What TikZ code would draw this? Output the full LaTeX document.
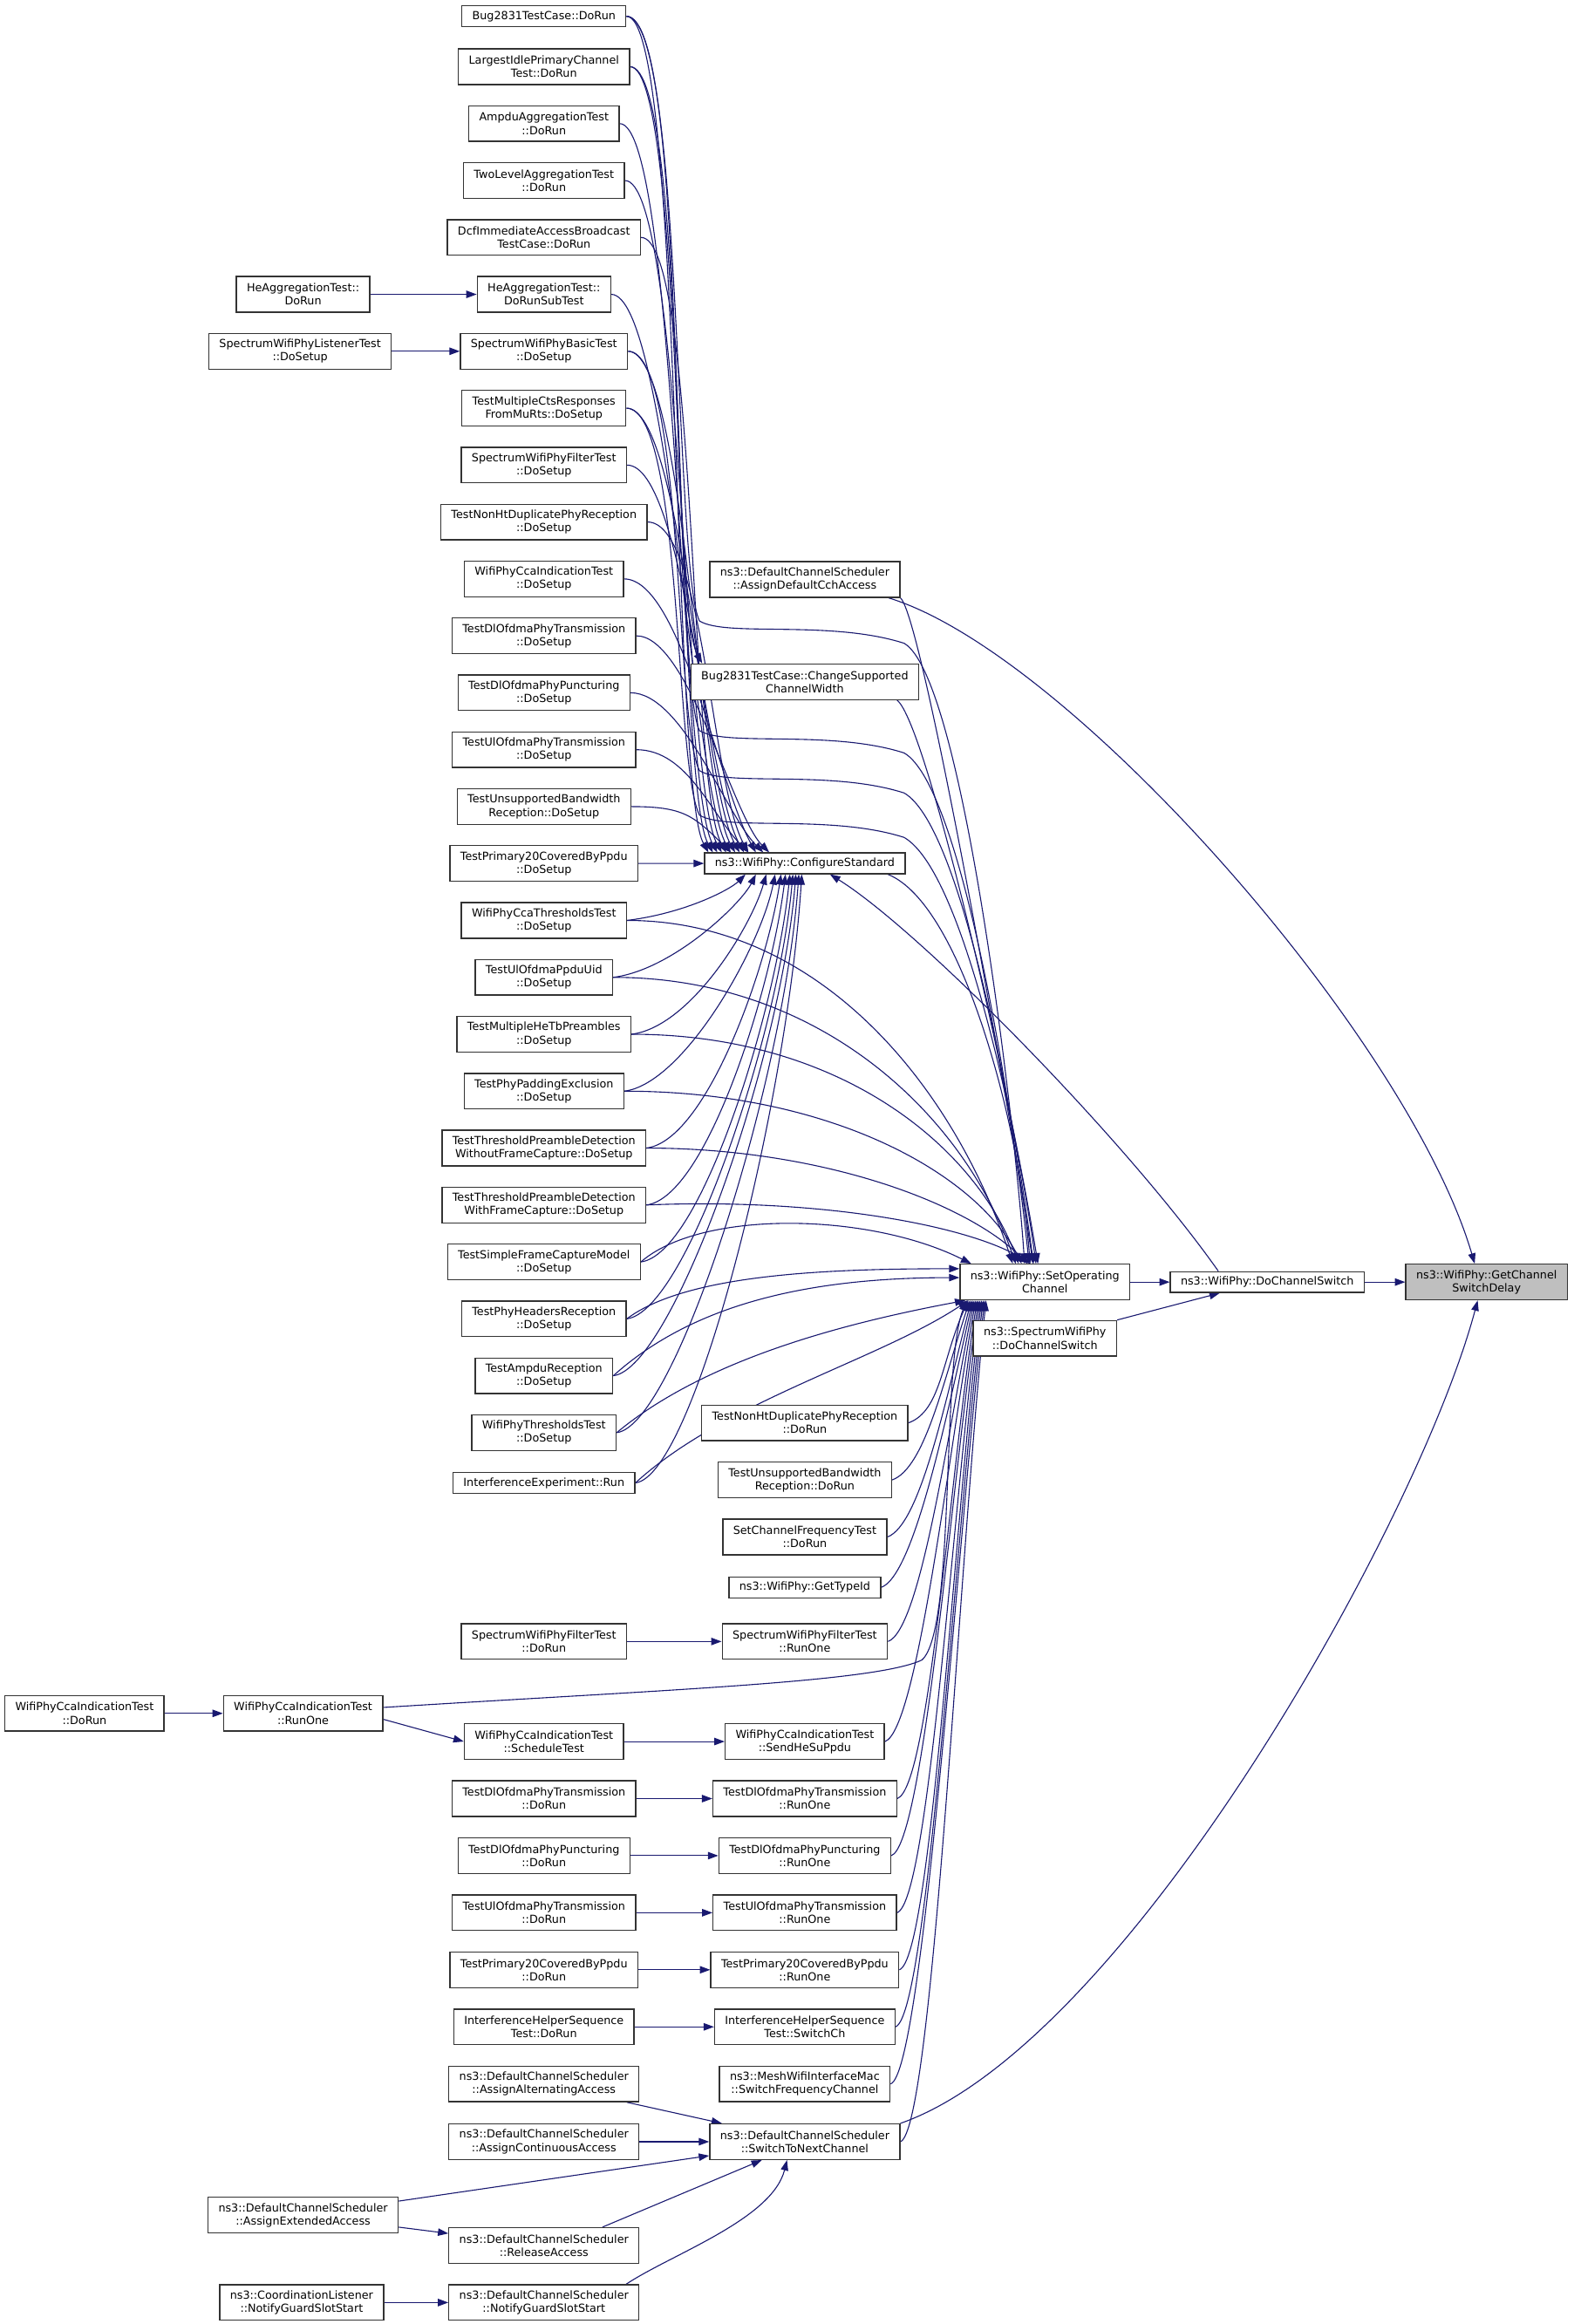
\documentclass[tikz,border=0pt]{standalone}
\usepackage{fontspec}
\setmainfont{DejaVu Sans}
\usetikzlibrary{arrows.meta,backgrounds}
\definecolor{edgeblue}{RGB}{25,25,112}
\definecolor{rootgray}{RGB}{191,191,191}
\begin{document}
\begin{tikzpicture}[x=1pt,y=-1pt,
    fn/.style={draw=black!80, line width=0.8pt, fill=white, align=center,
      font=\fontsize{7.5}{8.9}\selectfont, inner xsep=7pt, inner ysep=0pt, minimum height=24pt},
    fnflat/.style={fn, minimum height=14pt},
    call/.style={draw=edgeblue, line width=0.65pt, -{Triangle[length=7pt,width=5pt]}}]
  \useasboundingbox (0,0) rectangle (1062,1568);

  % callers on the left
  \node[fn] (hedorun) at (204.5,198.6) {HeAggregationTest::\\DoRun};
  \node[fn] (listen) at (202.5,237) {SpectrumWifiPhyListenerTest\\::DoSetup};
  \node[fn] (ccadorun) at (57,1156) {WifiPhyCcaIndicationTest\\::DoRun};
  \node[fn] (ccarun) at (204.5,1156) {WifiPhyCcaIndicationTest\\::RunOne};
  \node[fn] (ext) at (204.5,1494.5) {ns3::DefaultChannelScheduler\\::AssignExtendedAccess};
  \node[fn] (coord) at (203.5,1553.5) {ns3::CoordinationListener\\::NotifyGuardSlotStart};

  % test cases
  \node[fnflat] (b1) at (367,11) {Bug2831TestCase::DoRun};
  \node[fn] (b2) at (367,45) {LargestIdlePrimaryChannel\\Test::DoRun};
  \node[fn] (b3) at (367,83.4) {AmpduAggregationTest\\::DoRun};
  \node[fn] (b4) at (367,121.8) {TwoLevelAggregationTest\\::DoRun};
  \node[fn] (b5) at (367,160.2) {DcfImmediateAccessBroadcast\\TestCase::DoRun};
  \node[fn] (b6) at (367,198.6) {HeAggregationTest::\\DoRunSubTest};
  \node[fn] (b7) at (367,237) {SpectrumWifiPhyBasicTest\\::DoSetup};
  \node[fn] (b8) at (367,275.4) {TestMultipleCtsResponses\\FromMuRts::DoSetup};
  \node[fn] (b9) at (367,313.8) {SpectrumWifiPhyFilterTest\\::DoSetup};
  \node[fn] (b10) at (367,352.2) {TestNonHtDuplicatePhyReception\\::DoSetup};
  \node[fn] (b11) at (367,390.6) {WifiPhyCcaIndicationTest\\::DoSetup};
  \node[fn] (b12) at (367,429) {TestDlOfdmaPhyTransmission\\::DoSetup};
  \node[fn] (b13) at (367,467.4) {TestDlOfdmaPhyPuncturing\\::DoSetup};
  \node[fn] (b14) at (367,505.8) {TestUlOfdmaPhyTransmission\\::DoSetup};
  \node[fn] (b15) at (367,544.2) {TestUnsupportedBandwidth\\Reception::DoSetup};
  \node[fn] (b16) at (367,582.6) {TestPrimary20CoveredByPpdu\\::DoSetup};
  \node[fn] (b17) at (367,621) {WifiPhyCcaThresholdsTest\\::DoSetup};
  \node[fn] (b18) at (367,659.4) {TestUlOfdmaPpduUid\\::DoSetup};
  \node[fn] (b19) at (367,697.8) {TestMultipleHeTbPreambles\\::DoSetup};
  \node[fn] (b20) at (367,736.2) {TestPhyPaddingExclusion\\::DoSetup};
  \node[fn] (b21) at (367,774.6) {TestThresholdPreambleDetection\\WithoutFrameCapture::DoSetup};
  \node[fn] (b22) at (367,813) {TestThresholdPreambleDetection\\WithFrameCapture::DoSetup};
  \node[fn] (b23) at (367,851.4) {TestSimpleFrameCaptureModel\\::DoSetup};
  \node[fn] (b24) at (367,889.8) {TestPhyHeadersReception\\::DoSetup};
  \node[fn] (b25) at (367,928.2) {TestAmpduReception\\::DoSetup};
  \node[fn] (b26) at (367,966.6) {WifiPhyThresholdsTest\\::DoSetup};
  \node[fnflat] (b27) at (367,1000.5) {InterferenceExperiment::Run};

  \node[fn] (fltrun) at (367,1107.5) {SpectrumWifiPhyFilterTest\\::DoRun};
  \node[fn] (sched) at (367,1175) {WifiPhyCcaIndicationTest\\::ScheduleTest};
  \node[fn] (dltx) at (367,1213.5) {TestDlOfdmaPhyTransmission\\::DoRun};
  \node[fn] (dlpunc) at (367,1252) {TestDlOfdmaPhyPuncturing\\::DoRun};
  \node[fn] (ultx) at (367,1290.5) {TestUlOfdmaPhyTransmission\\::DoRun};
  \node[fn] (p20) at (367,1329) {TestPrimary20CoveredByPpdu\\::DoRun};
  \node[fn] (ihs) at (367,1367.5) {InterferenceHelperSequence\\Test::DoRun};
  \node[fn] (alt) at (367,1406) {ns3::DefaultChannelScheduler\\::AssignAlternatingAccess};
  \node[fn] (cont) at (367,1445) {ns3::DefaultChannelScheduler\\::AssignContinuousAccess};
  \node[fn] (rel) at (367,1515) {ns3::DefaultChannelScheduler\\::ReleaseAccess};
  \node[fn] (ngs) at (367,1553.5) {ns3::DefaultChannelScheduler\\::NotifyGuardSlotStart};

  % middle column
  \node[fn] (defcch) at (543,391) {ns3::DefaultChannelScheduler\\::AssignDefaultCchAccess};
  \node[fn] (chgw) at (543,460) {Bug2831TestCase::ChangeSupported\\ChannelWidth};
  \node[fnflat] (cfg) at (543,582.5) {ns3::WifiPhy::ConfigureStandard};
  \node[fn] (nhrun) at (543,960) {TestNonHtDuplicatePhyReception\\::DoRun};
  \node[fn] (ubrun) at (543,998.5) {TestUnsupportedBandwidth\\Reception::DoRun};
  \node[fn] (scf) at (543,1037) {SetChannelFrequencyTest\\::DoRun};
  \node[fnflat] (tid) at (543,1071) {ns3::WifiPhy::GetTypeId};
  \node[fn] (fltone) at (543,1107.5) {SpectrumWifiPhyFilterTest\\::RunOne};
  \node[fn] (hesu) at (543,1175) {WifiPhyCcaIndicationTest\\::SendHeSuPpdu};
  \node[fn] (dltxone) at (543,1213.5) {TestDlOfdmaPhyTransmission\\::RunOne};
  \node[fn] (dlpuncone) at (543,1252) {TestDlOfdmaPhyPuncturing\\::RunOne};
  \node[fn] (ultxone) at (543,1290.5) {TestUlOfdmaPhyTransmission\\::RunOne};
  \node[fn] (p20one) at (543,1329) {TestPrimary20CoveredByPpdu\\::RunOne};
  \node[fn] (swch) at (543,1367.5) {InterferenceHelperSequence\\Test::SwitchCh};
  \node[fn] (mesh) at (543,1406) {ns3::MeshWifiInterfaceMac\\::SwitchFrequencyChannel};
  \node[fn] (next) at (543,1445) {ns3::DefaultChannelScheduler\\::SwitchToNextChannel};

  % right side
  \node[fn] (setop) at (705,865) {ns3::WifiPhy::SetOperating\\Channel};
  \node[fn] (specsw) at (705,903) {ns3::SpectrumWifiPhy\\::DoChannelSwitch};
  \node[fnflat] (dosw) at (855,865) {ns3::WifiPhy::DoChannelSwitch};
  \node[fn, fill=rootgray] (root) at (1003,865) {ns3::WifiPhy::GetChannel\\SwitchDelay};

  \begin{pgfonlayer}{background}
    % upper callers down into ConfigureStandard
    \foreach \n/\s in {b1/3,b2/6,b3/9,b4/12,b5/15,b6/18,b7/21,b8/24,b9/27,b10/30,b11/35}
      \draw[call] (\n.east) .. controls +(38,0) and +(-25,-45) .. ([xshift=\s pt]cfg.north west);
    \foreach \n/\s in {b12/44,b13/40,b14/30,b15/18}
      \draw[call] (\n.east) .. controls +(35,0) and +(-25,-25) .. ([xshift=\s pt]cfg.north west);
    \draw[call] (b16) -- (cfg);
    \foreach \n/\s/\c in {b17/28/10,b18/35/20,b19/42/35,b20/48/50,b21/52/65,b22/55/80,
        b23/58/95,b24/60/110,b25/62/125,b26/64/140,b27/66/155}
      \draw[call] (\n.east) .. controls +(40,-5) and +(-10,\c) .. ([xshift=\s pt]cfg.south west);
    \draw[call] (b1.east) .. controls +(40,0) and +(-22,-40) .. ([xshift=8pt]chgw.north west);

    % long sweeps into SetOperatingChannel
    \foreach \n/\y/\s in {b1/422/44,b2/496/47,b7/523/50,b8/553/53}
      \draw[call] (\n.east) .. controls +(38,0) and (455,\y-35) .. (472,\y-3)
        .. controls (490,\y+8) and (560,\y-4) .. (610,\y+12)
        .. controls (650,\y+35) and (685,760) .. ([xshift=\s pt]setop.north west);
    \draw[call] (b17.east) .. controls +(130,0) and +(-40,-120) .. ([xshift=36pt]setop.north west);
    \draw[call] (b18.east) .. controls +(140,0) and +(-35,-100) .. ([xshift=38pt]setop.north west);
    \draw[call] (b19.east) .. controls +(140,0) and +(-30,-80) .. ([xshift=40pt]setop.north west);
    \draw[call] (b20.east) .. controls +(140,0) and +(-30,-60) .. ([xshift=42pt]setop.north west);
    \draw[call] (b21.east) .. controls +(120,0) and +(-40,-40) .. ([xshift=46pt]setop.north west);
    \draw[call] (b22.east) .. controls +(120,-5) and +(-40,-25) .. ([xshift=48pt]setop.north west);
    \draw[call] (b23.east) .. controls +(40,-35) and +(-70,-35) .. ([xshift=8pt]setop.north west);
    \draw[call] (b24.east) .. controls +(40,-30) and +(-90,0) .. ([yshift=9pt]setop.west);
    \draw[call] (b25.east) .. controls +(50,-45) and +(-110,0) .. ([yshift=3pt]setop.west);
    \draw[call] (b26.east) .. controls +(60,-50) and +(-80,15) .. ([xshift=4pt]setop.south west);
    \draw[call] (b27.east) .. controls +(60,-55) and +(-60,40) .. ([xshift=6pt]setop.south west);

    \draw[call] ([xshift=-12pt]cfg.south east) .. controls +(50,20) and +(-7,-93) .. ([xshift=-10pt]setop.north);
    \draw[call] (defcch.south east) .. controls +(15,12) and +(-14,-93) .. ([xshift=-8pt]setop.north);
    \draw[call] ([xshift=-15pt]chgw.south east) .. controls +(20,15) and +(-15,-110) .. ([xshift=-6pt]setop.north);
    \draw[call] ([xshift=-8pt]defcch.south east) .. controls +(122,37) and +(-45,-153) .. ([xshift=-8pt]root.north);

    % lower callers up into SetOperatingChannel
    \foreach \n/\s/\c in {nhrun/6/40,ubrun/7/55,scf/8/70,tid/9/80,fltone/10/90,hesu/11/100,
        dltxone/12/110,dlpuncone/13/120,ultxone/14/130,p20one/15/140,swch/16/150,mesh/17/160,next/18/170}
      \draw[call] (\n.east) .. controls +(22,-8) and +(-18,\c) .. ([xshift=\s pt]setop.south west);
    \draw[call] ([yshift=4pt]ccarun.east) .. controls (450,1140) and (590,1135) .. (622,1120)
      .. controls (645,1100) and (635,920) .. ([xshift=5pt]setop.south west);
    \draw[call] (next.north east) .. controls +(152,-53) and +(-40,150) .. ([xshift=-6pt]root.south);

    % short links
    \draw[call] (hedorun) -- (b6);
    \draw[call] (listen) -- (b7);
    \draw[call] (ccadorun) -- (ccarun);
    \draw[call] ([yshift=-4pt]ccarun.east) -- (sched.west);
    \draw[call] (sched) -- (hesu);
    \draw[call] (fltrun) -- (fltone);
    \draw[call] (dltx) -- (dltxone);
    \draw[call] (dlpunc) -- (dlpuncone);
    \draw[call] (ultx) -- (ultxone);
    \draw[call] (p20) -- (p20one);
    \draw[call] (ihs) -- (swch);
    \draw[call] (alt) -- (next);
    \draw[call] (cont) -- (next);
    \draw[call] (ext) -- (next);
    \draw[call] (ext) -- (rel);
    \draw[call] ([xshift=-25pt]rel.north east) -- ([xshift=-29pt]next.south);
    \draw[call] ([xshift=-9pt]ngs.north east) .. controls +(30,-20) and +(-10,40) .. ([xshift=-12pt]next.south);
    \draw[call] (coord) -- (ngs);
    \draw[call] (setop) -- (dosw);
    \draw[call] (specsw.north east) -- ([xshift=-32pt]dosw.south);
    \draw[call] (dosw) -- (root);
    \draw[call] ([xshift=-33pt]dosw.north) .. controls +(-62,-88) and +(61,38) .. ([xshift=17pt]cfg.south);
  \end{pgfonlayer}
\end{tikzpicture}
\end{document}
